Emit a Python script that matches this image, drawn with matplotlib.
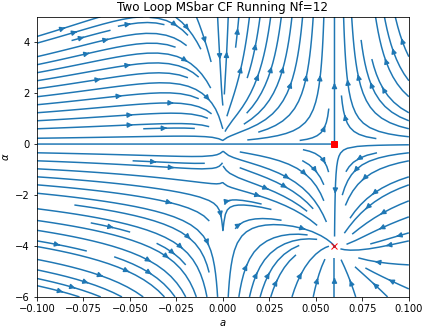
import numpy as np
import matplotlib.pyplot as plt

# running coefficients, Nf = 12
b_coup = [3.45, -57.5]     # da/dt = 2 a^2 (b0 + b1 a)
g_one = [1.8, 1.0]         # one loop part of d(alpha)/dt
g_two = [94.0, 14.3]       # two loop part of d(alpha)/dt

# fixed points marked on the plot
sq_a, sq_alpha = [0.06], [0.0]
x_a, x_alpha = [0.06], [-4.0]

a_range = [-0.1, 0.1]
alpha_range = [-6.0, 5.0]

a = np.linspace(a_range[0], a_range[1], 201)
al = np.linspace(alpha_range[0], alpha_range[1], 221)
A, AL = np.meshgrid(a, al)

U = 2.0 * A**2 * (b_coup[0] + b_coup[1] * A)
V = AL * (A * (g_one[0] + g_one[1] * AL) + A**2 * (g_two[0] + g_two[1] * AL))

fig = plt.figure(figsize=(425 / 72, 327 / 72), dpi=72)
ax = fig.add_axes([0.087, 0.092, 0.875, 0.857])

ax.streamplot(A, AL, U, V, density=1.2)
ax.plot(sq_a, sq_alpha, "rs")
ax.plot(x_a, x_alpha, "rx")

ax.set_xlim(a_range)
ax.set_ylim(alpha_range)
ax.set_xlabel("$a$")
ax.set_ylabel("$\\alpha$")
ax.set_title("Two Loop MSbar CF Running Nf=12")

plt.savefig("out.png", dpi=72)
